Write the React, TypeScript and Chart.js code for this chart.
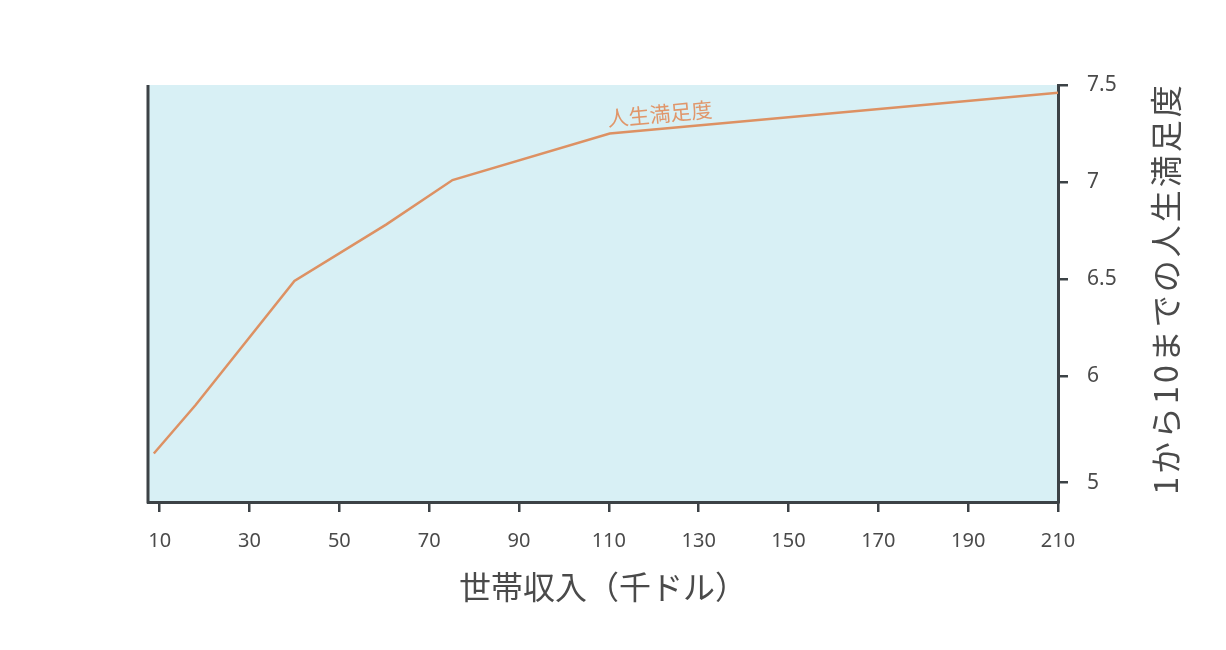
import React, { useEffect, useRef } from 'react';
import { Chart, registerables } from 'chart.js';

Chart.register(...registerables);

// household income (thousand dollars) vs life satisfaction (1-10)
const incomes = [8.7, 18, 40, 60.4, 75.2, 110.2, 210];
const satisfaction = [5.6, 5.85, 6.49, 6.78, 7.01, 7.25, 7.46];
const xTicks = [10, 30, 50, 70, 90, 110, 130, 150, 170, 190, 210];
const yTickValues = [5.45, 6, 6.5, 7, 7.5];
const yTickLabels = ['5', '6', '6.5', '7', '7.5'];

const seriesName = '人生満足度';
const xTitle = '世帯収入（千ドル）';
const yTitle = '1から10までの人生満足度';

const axisColor = '#3c4246';
const textColor = '#4a4a4a';
const lineColor = '#dd9163';
const plotFill = '#d8f0f5';
const cjk = '"Noto Sans CJK JP", "Noto Sans", sans-serif';

const framePlugin = {
  id: 'frame',
  beforeDraw(chart: any) {
    const { ctx, chartArea: a } = chart;
    ctx.save();
    ctx.fillStyle = plotFill;
    ctx.fillRect(a.left, a.top, a.right - a.left, a.bottom - a.top);
    ctx.restore();
  },
  afterDraw(chart: any) {
    const { ctx, chartArea: a } = chart;
    ctx.save();
    // left frame line
    ctx.strokeStyle = axisColor;
    ctx.lineWidth = 3;
    ctx.beginPath();
    ctx.moveTo(a.left, a.top);
    ctx.lineTo(a.left, a.bottom + 1.5);
    ctx.stroke();

    // axis titles
    ctx.fillStyle = textColor;
    ctx.font = `32px ${cjk}`;
    ctx.textAlign = 'center';
    ctx.textBaseline = 'middle';
    ctx.fillText(xTitle, (a.left + a.right) / 2, 587);

    ctx.save();
    ctx.translate(1166, (a.top + a.bottom) / 2 - 5);
    ctx.rotate(-Math.PI / 2);
    (ctx as any).letterSpacing = '3px';
    ctx.fillText(yTitle, 0, 0);
    ctx.restore();

    // series label riding on the last segment
    const pts = chart.getDatasetMeta(0).data;
    const p0 = pts[pts.length - 2];
    const p1 = pts[pts.length - 1];
    const t = 0.115;
    const lx = p0.x + (p1.x - p0.x) * t;
    const ly = p0.y + (p1.y - p0.y) * t;
    const ang = Math.atan2(p1.y - p0.y, p1.x - p0.x);
    ctx.translate(lx, ly);
    ctx.rotate(ang);
    ctx.fillStyle = '#e0966a';
    ctx.font = `21px ${cjk}`;
    ctx.fillText(seriesName, 0, -15);
    ctx.restore();
  },
};

const App: React.FC = () => {
  const canvasRef = useRef<HTMLCanvasElement | null>(null);

  useEffect(() => {
    if (!canvasRef.current) return;
    const chart = new Chart(canvasRef.current, {
      type: 'line',
      data: {
        datasets: [
          {
            label: seriesName,
            data: incomes.map((x, i) => ({ x, y: satisfaction[i] })),
            borderColor: lineColor,
            borderWidth: 2.5,
            pointRadius: 0,
            tension: 0,
            fill: false,
          },
        ],
      },
      options: {
        animation: false,
        responsive: true,
        maintainAspectRatio: false,
        layout: { padding: { left: 148, top: 85, right: 0, bottom: 0 } },
        plugins: { legend: { display: false }, tooltip: { enabled: false } },
        scales: {
          x: {
            type: 'linear',
            position: 'bottom',
            min: 7.4,
            max: 210,
            afterBuildTicks: (s: any) => {
              s.ticks = xTicks.map((v) => ({ value: v }));
            },
            afterFit: (s: any) => {
              s.height = 148;
            },
            grid: {
              drawOnChartArea: false,
              drawTicks: true,
              tickLength: 10,
              color: axisColor,
              lineWidth: 2.5,
            },
            border: { display: true, color: axisColor, width: 3 },
            ticks: {
              color: textColor,
              padding: 17,
              maxRotation: 0,
              autoSkip: false,
              font: { family: '"Noto Sans", sans-serif', size: 20 },
            },
          },
          y: {
            type: 'linear',
            position: 'right',
            min: 5.35,
            max: 7.5,
            afterBuildTicks: (s: any) => {
              s.ticks = yTickValues.map((v) => ({ value: v }));
            },
            afterFit: (s: any) => {
              s.width = 168;
            },
            grid: {
              drawOnChartArea: false,
              drawTicks: true,
              tickLength: 10,
              color: axisColor,
              lineWidth: 2.5,
            },
            border: { display: true, color: axisColor, width: 3 },
            ticks: {
              color: textColor,
              padding: 19,
              autoSkip: false,
              font: { family: '"Noto Sans", sans-serif', size: 21 },
              callback: (v: any) => {
                const i = yTickValues.indexOf(Number(v));
                return i >= 0 ? yTickLabels[i] : '';
              },
            },
          },
        },
      },
      plugins: [framePlugin],
    } as any);
    return () => chart.destroy();
  }, []);

  return (
    <div style={{ position: 'fixed', left: 0, top: 0, width: 1226, height: 650, background: '#fff' }}>
      <canvas ref={canvasRef} />
    </div>
  );
};

export default App;
